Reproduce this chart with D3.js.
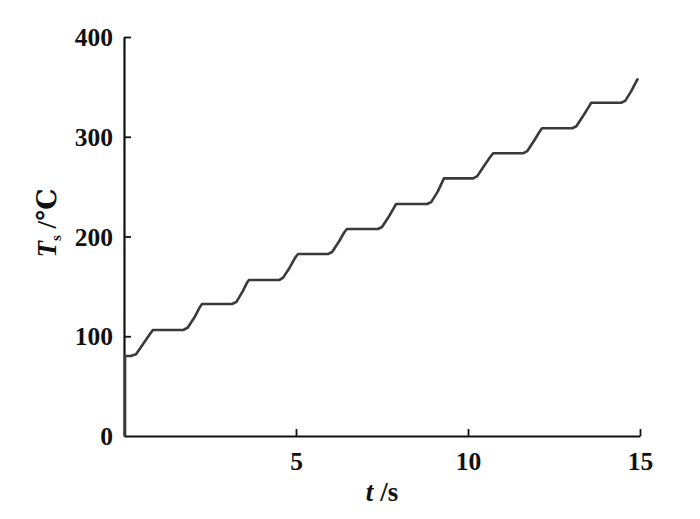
<!DOCTYPE html>
<html>
<head>
<meta charset="utf-8">
<script src="https://cdn.jsdelivr.net/npm/d3@7/dist/d3.min.js"></script>
<style>
  html, body { margin: 0; padding: 0; background: #fff; }
  svg { display: block; }
  text { font-family: "Liberation Serif", "DejaVu Serif", serif; font-weight: bold; fill: #111; }
</style>
</head>
<body>
<svg id="chart" width="700" height="519"></svg>
<script>
const timeS = [0.03, 0.03, 0.20, 0.35, 0.55, 0.75, 0.84, 1.72, 1.85, 2.05, 2.20, 2.27, 3.14, 3.27, 3.45, 3.58, 3.63,
  4.51, 4.62, 4.82, 4.98, 5.06, 5.93, 6.05, 6.25, 6.40, 6.48, 7.38, 7.50, 7.70, 7.85, 7.91,
  8.81, 8.93, 9.12, 9.25, 9.30, 10.15, 10.27, 10.47, 10.65, 10.73, 11.60, 11.72, 11.92, 12.08, 12.15,
  13.03, 13.15, 13.35, 13.52, 13.58, 14.45, 14.57, 14.75, 14.94];
const tempC = [0, 80.2, 80.2, 82, 92, 102, 106.3, 106.3, 108.5, 119, 129, 132.3, 132.3, 134.5, 145, 154, 156.4,
  156.4, 158.5, 169, 179, 182.5, 182.5, 184.5, 195, 204, 207.5, 207.5, 209.5, 220, 229, 232.6,
  232.6, 234.5, 245, 254.5, 258.3, 258.3, 260.5, 271, 280, 283.4, 283.4, 285.5, 296, 305, 308.5,
  308.5, 310.5, 321, 330.5, 334.1, 334.1, 336, 346, 358.6];
const xTicks = [5, 10, 15];
const yTicks = [0, 100, 200, 300, 400];

const svg = d3.select("#chart");
const x = d3.scaleLinear().domain([0, 15]).range([124, 640]);
const y = d3.scaleLinear().domain([0, 400]).range([436, 37]);

// axes
const xAxis = svg.append("g").attr("transform", "translate(0,436)")
  .call(d3.axisBottom(x).tickValues(xTicks).tickSizeInner(-7).tickSizeOuter(0).tickPadding(16));
const yAxis = svg.append("g").attr("transform", "translate(124,0)")
  .call(d3.axisLeft(y).tickValues(yTicks).tickSizeInner(-7).tickSizeOuter(0).tickPadding(11));
[xAxis, yAxis].forEach(g => {
  g.select(".domain").attr("stroke", "#111").attr("stroke-width", 2.2);
  g.selectAll(".tick line").attr("stroke", "#111").attr("stroke-width", 1.8);
  g.selectAll(".tick text").attr("font-size", 25.5).attr("font-family", "Liberation Serif, serif")
    .attr("font-weight", "bold").attr("fill", "#111");
});
yAxis.selectAll(".tick").filter(d => d === 0).select("line").remove();
yAxis.selectAll(".tick text").attr("dy", "0.34em");
xAxis.selectAll(".tick text").attr("dy", "0.71em");

// line
const pts = timeS.map((t, i) => [t, tempC[i]]);
svg.append("path")
  .datum(pts)
  .attr("fill", "none")
  .attr("stroke", "#3a3a3a")
  .attr("stroke-width", 2.6)
  .attr("stroke-linejoin", "round")
  .attr("d", d3.line().x(d => x(d[0])).y(d => y(d[1])));

// axis labels
const xl = svg.append("text").attr("x", 382).attr("y", 501).attr("text-anchor", "middle").attr("font-size", 27);
xl.append("tspan").attr("font-style", "italic").text("t");
xl.append("tspan").text(" /s");

const yl = svg.append("text").attr("transform", "translate(56,223) rotate(-90)")
  .attr("text-anchor", "middle").attr("font-size", 27);
yl.append("tspan").attr("font-style", "italic").text("T");
yl.append("tspan").attr("font-size", 15).attr("dy", 5).text("s");
yl.append("tspan").attr("dy", -5).text(" /℃");
</script>
</body>
</html>
